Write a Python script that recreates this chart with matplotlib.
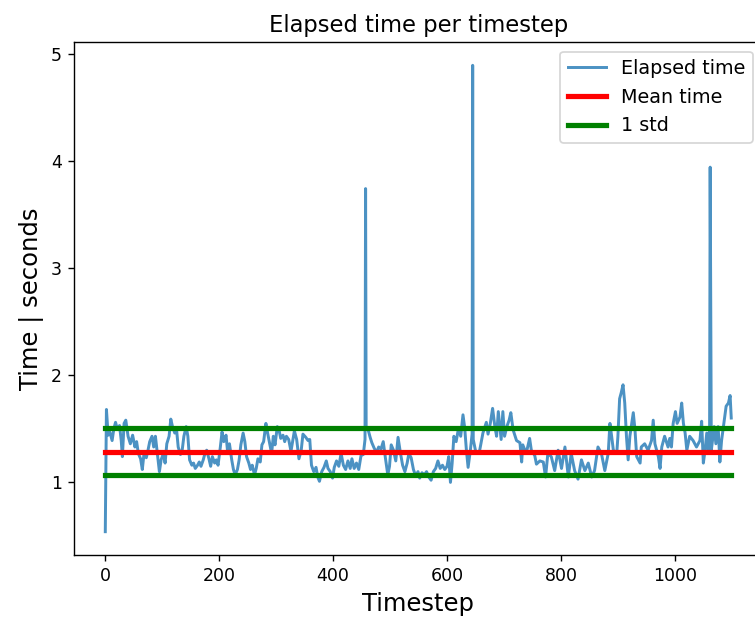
import matplotlib
matplotlib.use("Agg")
from matplotlib import pyplot as plt

steps = [0, 2, 5, 8, 12, 15, 18, 21, 25, 28, 30, 33, 36, 40, 44, 48, 52, 55, 58, 62,
         65, 68, 72, 75, 78, 82, 85, 88, 92, 95, 98, 102, 105, 108, 112, 115, 118, 122, 125, 128,
         132, 135, 138, 142, 145, 148, 152, 155, 158, 162, 165, 168, 172, 175, 178, 182, 185, 188, 192, 195,
         198, 202, 205, 208, 212, 215, 218, 222, 225, 228, 232, 235, 238, 242, 245, 248, 252, 255, 258, 262,
         265, 268, 272, 275, 278, 282, 285, 288, 292, 295, 298, 302, 305, 308, 312, 315, 318,
         322, 326, 332, 336, 340, 344, 347, 352, 356, 359, 362, 366, 370, 373, 376, 380, 384, 388,
         391, 395, 399, 402, 406, 410, 414, 418, 422, 426, 430, 433, 437, 441, 445, 449, 453, 456, 457, 458,
         461, 465, 468, 472, 476, 480, 484, 488, 492, 496, 499, 502, 506, 510, 514, 518, 522, 526, 530, 533,
         537, 541, 545, 549, 552, 556, 560, 564, 568, 572, 576, 580, 584, 588, 592, 596, 600, 603, 606, 609,
         612, 616, 620, 624, 628, 631, 634, 637, 641, 644, 645, 646,
         651, 657, 663, 669, 672, 676, 680, 684, 687, 690, 695, 698, 701, 705, 709, 712, 716, 722, 728, 731,
         733, 739, 745, 748, 754, 757, 763, 769, 773, 777, 783, 789, 795, 801, 807, 813, 818, 824, 830, 836,
         842, 848, 854, 859, 865, 871, 877, 883, 886, 889, 892, 898, 900, 903, 906, 909, 912, 915, 918, 921,
         927, 930, 933, 939, 941, 947, 953, 959, 962, 965, 971, 974, 977, 982, 988,
         991, 994, 997, 1001, 1004, 1009, 1012, 1015, 1018, 1021, 1026, 1032, 1038, 1044, 1047, 1050, 1053, 1056, 1059, 1061,
         1062, 1064, 1069, 1072, 1076, 1079, 1082, 1086, 1090, 1094, 1097, 1099]
elapsed = [0.54, 1.68, 1.44, 1.47, 1.39, 1.50, 1.56, 1.50, 1.53, 1.39, 1.24, 1.55, 1.58, 1.43, 1.36, 1.44, 1.33, 1.38, 1.27, 1.22,
           1.12, 1.27, 1.23, 1.30, 1.38, 1.43, 1.33, 1.43, 1.24, 1.10, 1.21, 1.27, 1.18, 1.36, 1.43, 1.59, 1.52, 1.46, 1.50, 1.33,
           1.26, 1.30, 1.43, 1.52, 1.43, 1.21, 1.16, 1.18, 1.13, 1.16, 1.19, 1.15, 1.21, 1.27, 1.30, 1.22, 1.15, 1.24, 1.18, 1.21,
           1.16, 1.33, 1.47, 1.38, 1.44, 1.27, 1.36, 1.21, 1.12, 1.07, 1.12, 1.21, 1.35, 1.46, 1.38, 1.24, 1.18, 1.12, 1.16, 1.07,
           1.13, 1.22, 1.19, 1.35, 1.38, 1.55, 1.46, 1.38, 1.27, 1.43, 1.35, 1.52, 1.49, 1.41, 1.44, 1.38, 1.43,
           1.40, 1.29, 1.48, 1.40, 1.22, 1.30, 1.45, 1.42, 1.39, 1.40, 1.16, 1.10, 1.14, 1.05, 1.01, 1.10, 1.14, 1.20,
           1.13, 1.10, 1.04, 1.14, 1.20, 1.15, 1.27, 1.16, 1.12, 1.20, 1.13, 1.22, 1.13, 1.18, 1.12, 1.25, 1.26, 1.40, 3.74, 1.50,
           1.50, 1.42, 1.37, 1.32, 1.28, 1.33, 1.31, 1.38, 1.22, 1.07, 1.15, 1.35, 1.30, 1.20, 1.42, 1.28, 1.16, 1.10, 1.18, 1.27,
           1.23, 1.12, 1.06, 1.10, 1.04, 1.09, 1.07, 1.10, 1.05, 1.02, 1.10, 1.13, 1.20, 1.13, 1.16, 1.12, 1.15, 1.24, 1.00, 1.18,
           1.43, 1.38, 1.50, 1.43, 1.63, 1.51, 1.30, 1.14, 1.30, 1.45, 4.89, 1.40,
           1.27, 1.29, 1.46, 1.56, 1.45, 1.55, 1.69, 1.52, 1.43, 1.66, 1.40, 1.66, 1.43, 1.52, 1.58, 1.65, 1.49, 1.39, 1.37, 1.19,
           1.35, 1.27, 1.41, 1.30, 1.25, 1.17, 1.20, 1.19, 1.05, 1.27, 1.24, 1.11, 1.30, 1.13, 1.33, 1.05, 1.27, 1.11, 1.03, 1.21,
           1.11, 1.18, 1.05, 1.11, 1.33, 1.27, 1.11, 1.27, 1.55, 1.43, 1.30, 1.27, 1.43, 1.78, 1.84, 1.91, 1.74, 1.43, 1.21, 1.43,
           1.65, 1.49, 1.24, 1.18, 1.33, 1.36, 1.30, 1.39, 1.58, 1.36, 1.24, 1.13, 1.33, 1.43, 1.33,
           1.41, 1.33, 1.55, 1.66, 1.55, 1.61, 1.74, 1.55, 1.46, 1.30, 1.43, 1.39, 1.33, 1.39, 1.57, 1.18, 1.30, 1.46, 1.27, 1.52,
           3.94, 1.30, 1.52, 1.36, 1.52, 1.19, 1.39, 1.55, 1.71, 1.74, 1.81, 1.60]

mean_time = 1.286
std_time = 0.22

fig = plt.figure(figsize=(6.04, 4.976), dpi=125)
# axes run slightly past the right edge, as in the reference screenshot
ax = fig.add_axes([0.098, 0.1077, 0.912, 0.8248])

ax.plot(steps, elapsed, color="#1f77b4", alpha=0.8, linewidth=1.7, label="Elapsed time")
ax.plot([steps[0], steps[-1]], [mean_time, mean_time], color="red", linewidth=3, label="Mean time")
ax.plot([steps[0], steps[-1]], [mean_time + std_time] * 2, color="green", linewidth=3, label="1 std")
ax.plot([steps[0], steps[-1]], [mean_time - std_time] * 2, color="green", linewidth=3)

ax.set_title("Elapsed time per timestep", fontsize=13)
ax.set_xlabel("Timestep", fontsize=14)
ax.set_ylabel("Time | seconds", fontsize=14)
ax.legend(loc="upper right", fontsize=11)

fig.savefig("out.png", dpi=125)
